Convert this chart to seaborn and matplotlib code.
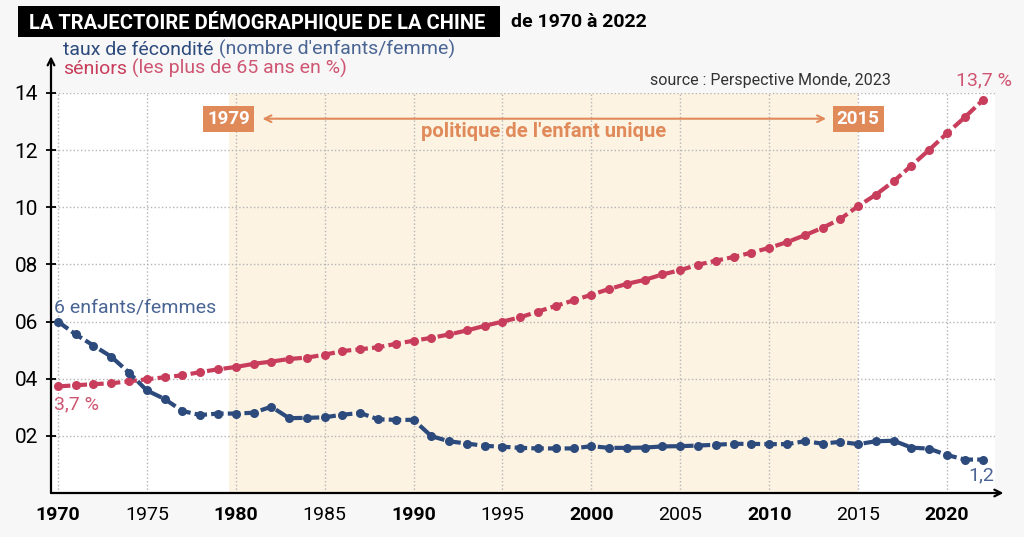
import matplotlib
matplotlib.use("Agg")
import matplotlib.pyplot as plt
import seaborn as sns
import pandas as pd
from matplotlib.patches import Rectangle

# Données
annees = list(range(1970, 2023))
fecondite = [6.0, 5.55, 5.16, 4.77, 4.21, 3.59, 3.29, 2.87, 2.73, 2.78,
             2.78, 2.81, 3.02, 2.62, 2.63, 2.65, 2.74, 2.80, 2.58, 2.56,
             2.56, 1.99, 1.81, 1.73, 1.65, 1.62, 1.58, 1.56, 1.56, 1.56,
             1.64, 1.58, 1.58, 1.59, 1.63, 1.64, 1.66, 1.69, 1.72, 1.72,
             1.71, 1.71, 1.81, 1.73, 1.79, 1.71, 1.81, 1.83, 1.59, 1.55,
             1.33, 1.17, 1.17]
seniors = [3.73, 3.77, 3.81, 3.84, 3.91, 3.98, 4.05, 4.12, 4.23, 4.33,
           4.41, 4.52, 4.60, 4.69, 4.74, 4.84, 4.97, 5.03, 5.10, 5.22,
           5.33, 5.43, 5.55, 5.69, 5.85, 6.00, 6.15, 6.35, 6.55, 6.74,
           6.94, 7.14, 7.32, 7.46, 7.65, 7.80, 7.99, 8.13, 8.26, 8.41,
           8.58, 8.78, 9.02, 9.28, 9.59, 10.04, 10.44, 10.91, 11.46, 12.01,
           12.59, 13.15, 13.74]
xticks = list(range(1970, 2021, 5))
yticks = [2, 4, 6, 8, 10, 12, 14]
ytick_labels = ["02", "04", "06", "08", "10", "12", "14"]
politique = [(1979.6, "1979"), (2015, "2015")]

BLEU = "#2c4a7c"
BLEU_CLAIR = "#4a6594"
ROUGE = "#c83d5b"
ROUGE_CLAIR = "#cf5672"
ORANGE = "#e08a5a"
FOND = "#f7f7f7"

sns.set_theme(style="white")
plt.rcParams["font.family"] = ["Roboto", "DejaVu Sans"]

df = pd.DataFrame({"annee": annees, "fecondite": fecondite, "seniors": seniors})

fig = plt.figure(figsize=(10.24, 5.37), dpi=100, facecolor=FOND)
W, H = 1024, 537


def px(x, y):
    return x / W, 1 - y / H


ax = fig.add_axes([51 / W, 44 / H, 944 / W, 400 / H])
ax.set_facecolor("white")

ax.axvspan(politique[0][0], politique[1][0], color="#fdf3e3", zorder=0, lw=0)

style = dict(marker="o", markersize=6.5, markeredgewidth=0, linewidth=3,
             linestyle=(0, (3, 1)), legend=False, zorder=3)
sns.lineplot(data=df, x="annee", y="seniors", color=ROUGE, ax=ax, **style)
sns.lineplot(data=df, x="annee", y="fecondite", color=BLEU, ax=ax, **style)

ax.set_xlim(1969.61, 2022.7)
ax.set_ylim(0, 14)
ax.set_xlabel("")
ax.set_ylabel("")
ax.set_xticks(xticks, [str(t) for t in xticks])
ax.set_yticks(yticks, ytick_labels)
for lbl in ax.get_xticklabels():
    if int(lbl.get_text()) % 10 == 0:
        lbl.set_fontweight("bold")
ax.tick_params(axis="x", length=0, pad=9, labelsize=14, colors="black")
ax.tick_params(axis="y", direction="inout", length=7, width=1.3, pad=6,
               labelsize=15, colors="black", left=True)
ax.grid(True, linestyle=":", color="#b5b5b5", linewidth=1)
ax.set_axisbelow(True)
for s in ax.spines.values():
    s.set_visible(False)

# axes fléchés
ax.annotate("", xy=(0, 1.092), xycoords="axes fraction", xytext=(0, 0),
            arrowprops=dict(arrowstyle="->", lw=1.6, color="black",
                            shrinkA=0, shrinkB=0), annotation_clip=False)
ax.annotate("", xy=(1.009, 0), xycoords="axes fraction", xytext=(0, 0),
            arrowprops=dict(arrowstyle="->", lw=1.6, color="black",
                            shrinkA=0, shrinkB=0), annotation_clip=False)

# politique de l'enfant unique
for an, lab in politique:
    ax.text(an, 13.1, lab, color="white", fontsize=13.5,
            fontweight="bold", ha="center", va="center", zorder=5,
            bbox=dict(boxstyle="square,pad=0.22", fc=ORANGE, ec="none"))
ax.annotate("", xy=(1981.5, 13.1), xytext=(2013.2, 13.1),
            arrowprops=dict(arrowstyle="<->", color=ORANGE, lw=1.5,
                            shrinkA=0, shrinkB=0))
ax.text((politique[0][0] + politique[1][0]) / 2, 12.65,
        "politique de l'enfant unique", color=ORANGE, fontsize=14.5,
        fontweight="bold", ha="center", va="center")

# étiquettes des séries
ax.text(annees[0] - 0.2, 6.5, "6 enfants/femmes", color=BLEU_CLAIR,
        fontsize=14, ha="left", va="center")
ax.text(annees[0] - 0.2, 3.1, "3,7 %", color=ROUGE_CLAIR,
        fontsize=14, ha="left", va="center")
ax.text(annees[-1] + 1.65, 14.45, "13,7 %", color=ROUGE_CLAIR,
        fontsize=14, ha="right", va="center", clip_on=False)
ax.text(annees[-1] + 0.65, 0.6, "1,2", color=BLEU_CLAIR,
        fontsize=14, ha="right", va="center")

# titre
x0, y0 = px(18, 37)
fig.patches.append(Rectangle((x0, y0), 482 / W, 31 / H, transform=fig.transFigure,
                             fc="black", ec="none", zorder=1))
fig.text(*px(29, 22), "LA TRAJECTOIRE DÉMOGRAPHIQUE DE LA CHINE", color="white",
         fontsize=14.5, fontweight="bold", ha="left", va="center", zorder=2)
fig.text(*px(511, 22), "de 1970 à 2022", color="black", fontsize=14,
         fontweight="bold", ha="left", va="center")

# sous-titres en deux parties
fig.canvas.draw()
r = fig.canvas.get_renderer()
for y, debut, suite, c1, c2 in ((55, "taux de fécondité", " (nombre d'enfants/femme)", BLEU, BLEU_CLAIR),
                                (74, "séniors", " (les plus de 65 ans en %)", ROUGE, ROUGE_CLAIR)):
    t = fig.text(*px(63, y), debut, color=c1, fontsize=14, fontweight="normal",
                 ha="left", va="baseline")
    t.set_path_effects([])
    bb = t.get_window_extent(r)
    fig.text(bb.x1 / W, 1 - y / H, suite, color=c2, fontsize=14,
             ha="left", va="baseline")

fig.text(*px(650, 85), "source : Perspective Monde, 2023", color="#333333",
         fontsize=11.5, ha="left", va="baseline")

fig.savefig("out.png", dpi=100, facecolor=FOND)
